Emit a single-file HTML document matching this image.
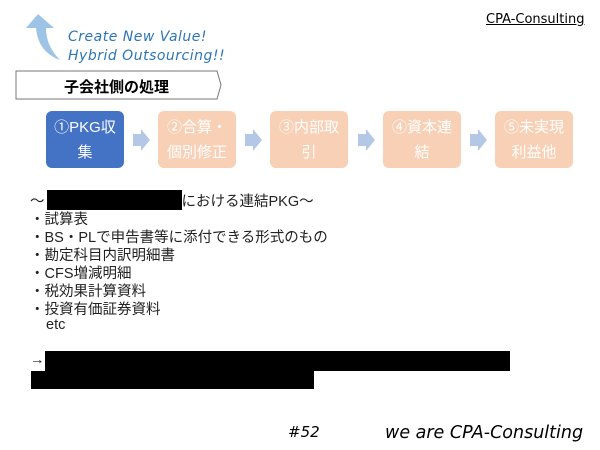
<!DOCTYPE html>
<html><head><meta charset="utf-8"><style>
body{margin:0;width:600px;height:450px;background:#fff;position:relative;overflow:hidden;font-family:"Liberation Sans","Noto Sans CJK JP",sans-serif}
.a{position:absolute}
.box{position:absolute;top:111px;width:78px;height:57px;border-radius:6px;background:#f8cbad;color:#fff;font-size:15px;line-height:25px;text-align:center;display:flex;align-items:center;justify-content:center;opacity:.9}
.t{position:absolute;left:30px;font-size:14.5px;color:#222;white-space:nowrap}
.blk{position:absolute;background:#000}
</style></head><body>
<svg class="a" style="left:20px;top:10px" width="50" height="55"><path d="M18 4 L34 18 L26 18 Q26 36 40 50 Q18 42 16 18 L6 18 Z" fill="#9dc3e6"/></svg>
<div class="a" style="left:68px;top:28px;font-size:14px;color:#2e75b6;font-style:italic;line-height:19px;font-family:'DejaVu Sans',sans-serif;letter-spacing:0.5px">Create New Value!<br>Hybrid Outsourcing!!</div>
<div class="a" style="left:486px;top:12px;font-size:13px;text-decoration:underline;font-family:'DejaVu Sans',sans-serif">CPA-Consulting</div>
<svg class="a" style="left:15px;top:70px" width="210" height="32"><path d="M1 1 H202 L206 15 L202 29 H1 Z" fill="#fff" stroke="#777"/></svg>
<div class="a" style="left:64px;top:76px;font-size:15px;font-weight:bold">子会社側の処理</div>
<div class="box" style="left:46px;background:#4472c4;opacity:1">①PKG収<br>集</div>
<div class="box" style="left:158px">②合算・<br>個別修正</div>
<div class="box" style="left:270px">③内部取<br>引</div>
<div class="box" style="left:383px">④資本連<br>結</div>
<div class="box" style="left:495px">⑤未実現<br>利益他</div>
<svg class="a" style="left:0;top:128px" width="600" height="24">
<g fill="#b4c7e7"><path d="M133 6h8v-5l9 11-9 11v-5h-8z"/><path d="M245 6h8v-5l9 11-9 11v-5h-8z"/><path d="M358 6h8v-5l9 11-9 11v-5h-8z"/><path d="M470 6h8v-5l9 11-9 11v-5h-8z"/></g></svg>
<div class="t" style="top:190px">〜<span style="display:inline-block;width:137px"></span>における連結PKG〜</div>
<div class="blk" style="left:47px;top:190px;width:135px;height:20px"></div>
<div class="t" style="top:208px">・試算表</div>
<div class="t" style="top:226px">・BS・PLで申告書等に添付できる形式のもの</div>
<div class="t" style="top:244px">・勘定科目内訳明細書</div>
<div class="t" style="top:262px">・CFS増減明細</div>
<div class="t" style="top:280px">・税効果計算資料</div>
<div class="t" style="top:298px">・投資有価証券資料</div>
<div class="t" style="top:317px;left:46px">etc</div>
<div class="t" style="top:352px">→</div>
<div class="blk" style="left:45px;top:351px;width:465px;height:20px"></div>
<div class="blk" style="left:31px;top:371px;width:283px;height:18px"></div>
<div class="a" style="left:288px;top:423px;font-size:15px;font-style:italic;font-family:'DejaVu Sans',sans-serif">#52</div>
<div class="a" style="left:385px;top:423px;font-size:17.5px;font-style:italic;font-family:'DejaVu Sans',sans-serif">we are CPA-Consulting</div>
</body></html>
